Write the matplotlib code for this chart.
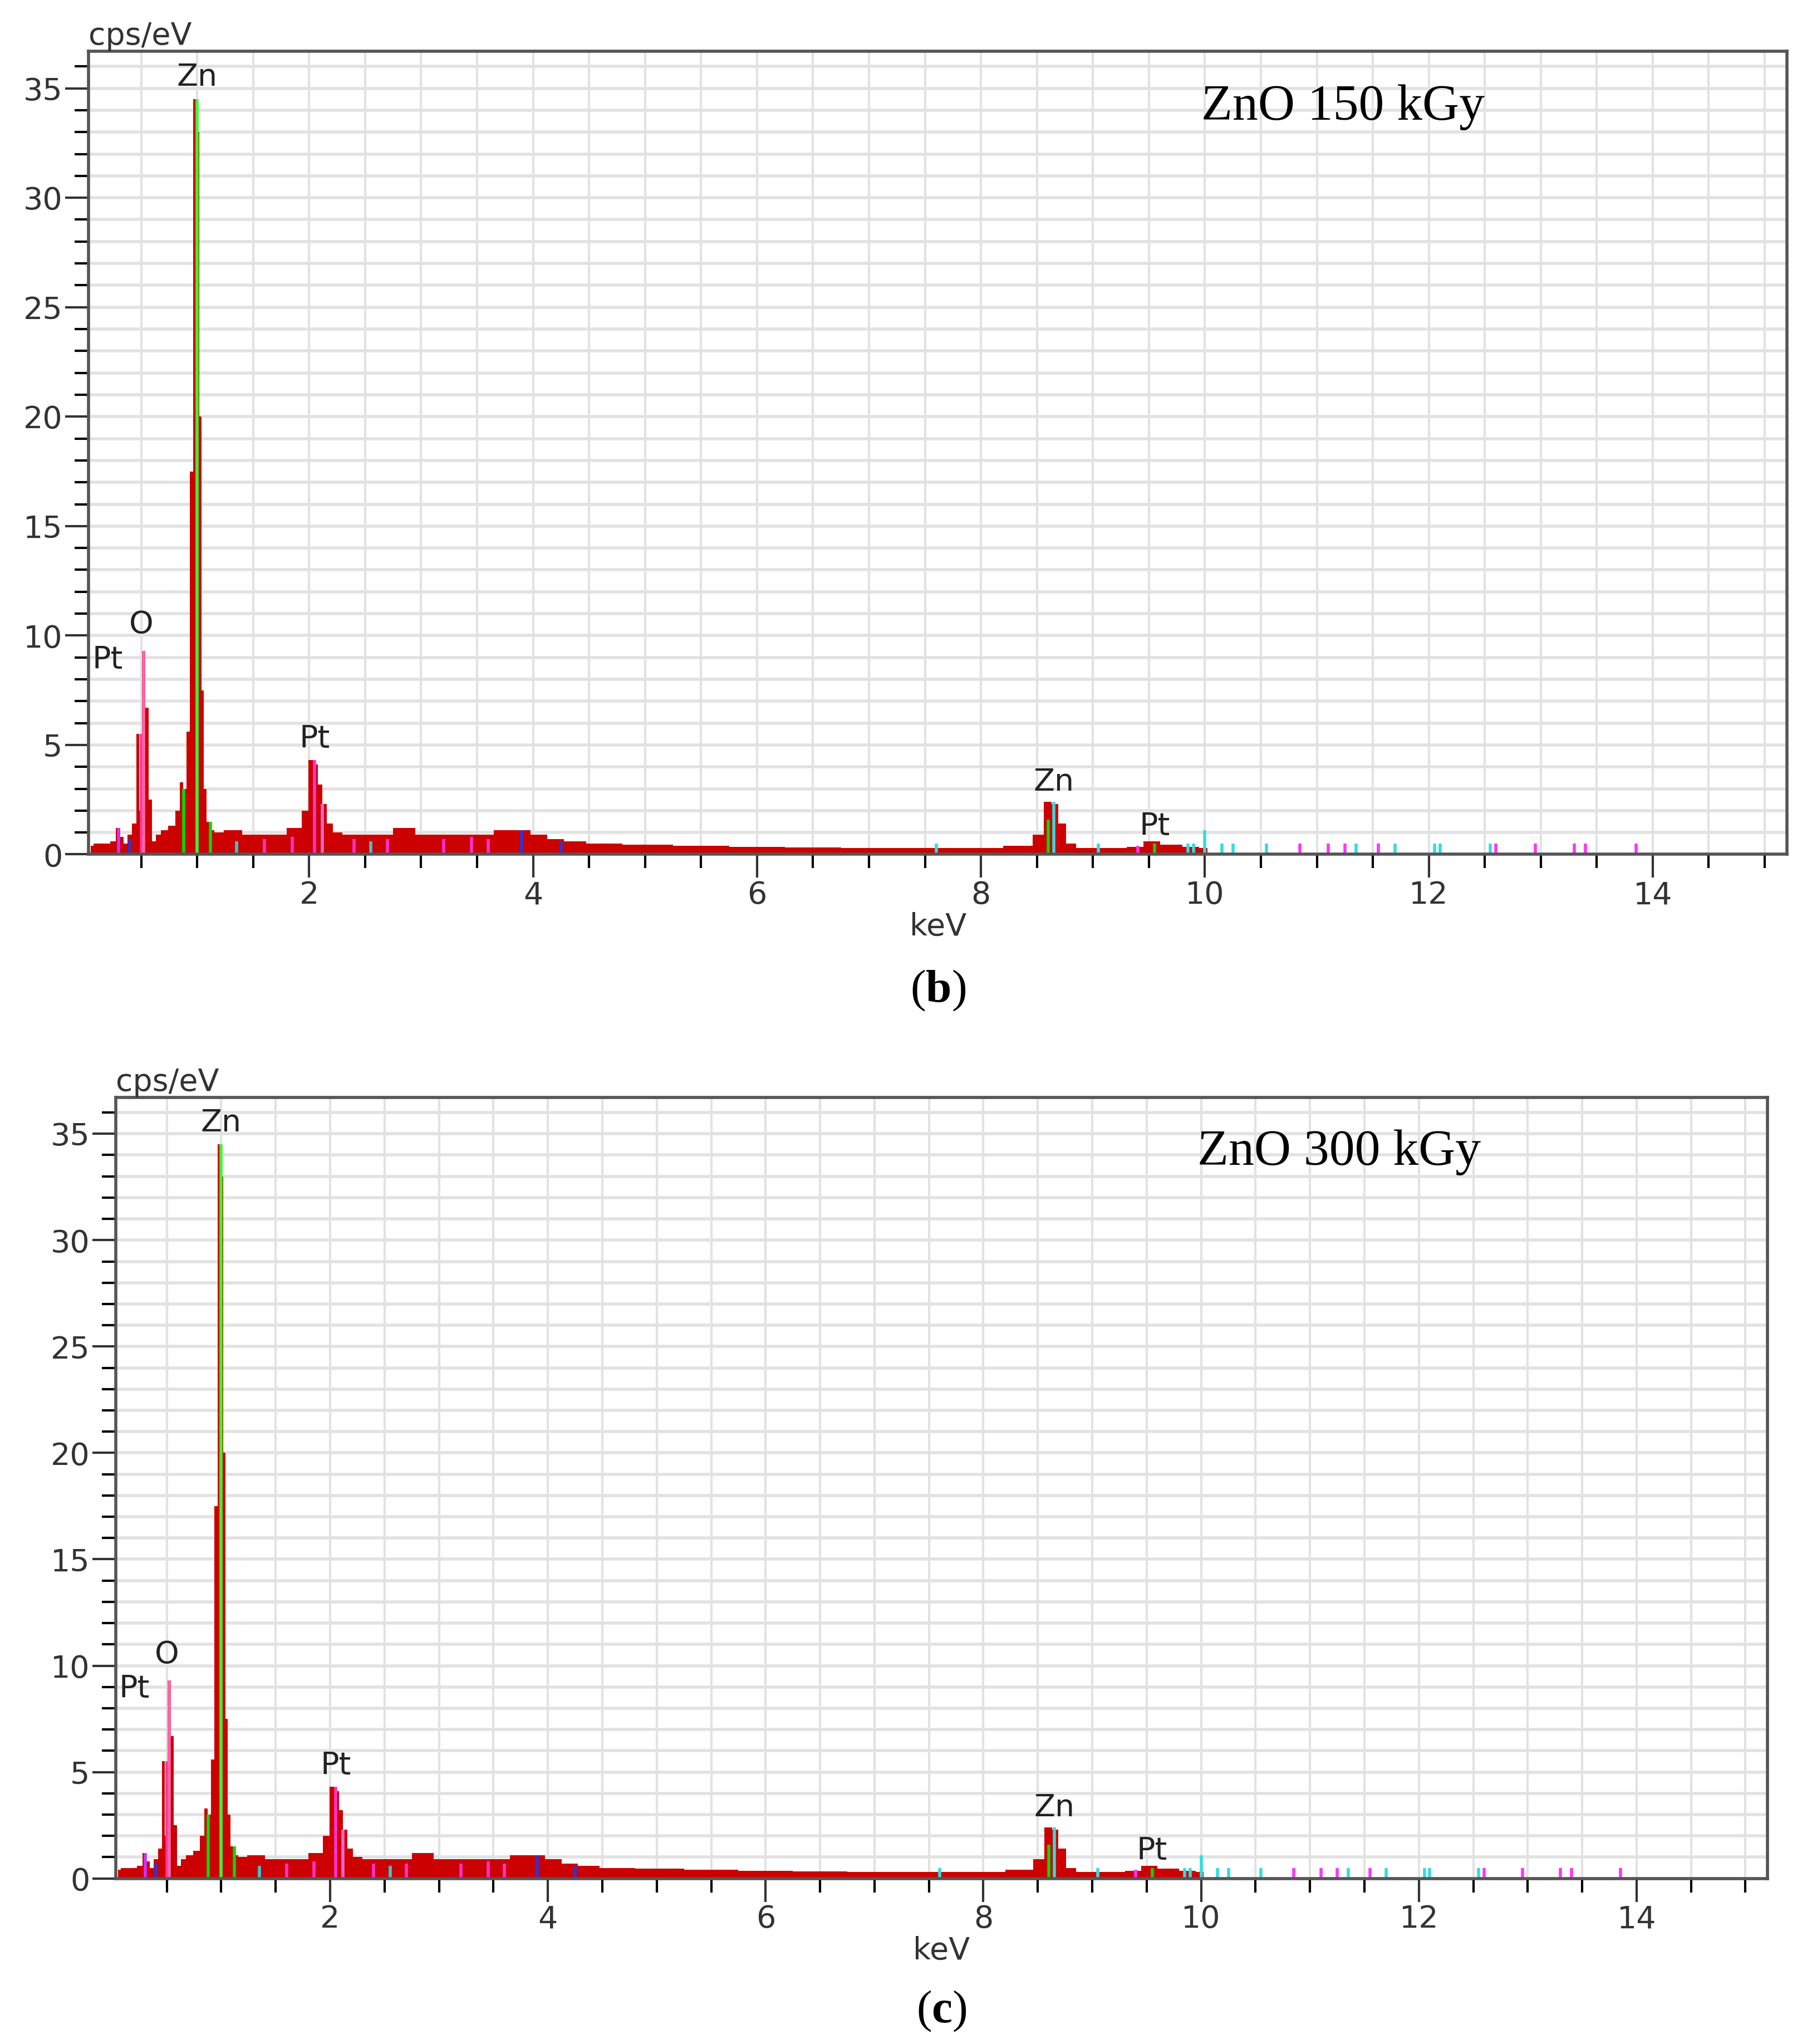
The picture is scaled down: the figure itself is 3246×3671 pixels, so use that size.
import numpy as np
import matplotlib.pyplot as plt
from matplotlib.ticker import MultipleLocator

plt.rcParams['mathtext.fontset'] = 'custom'
plt.rcParams['mathtext.rm'] = 'Liberation Serif'
plt.rcParams['mathtext.bf'] = 'Liberation Serif:bold'

# spectrum (keV, cps/eV)
energy = [0.05, 0.1, 0.2, 0.25, 0.3, 0.33, 0.36, 0.4, 0.44, 0.47, 0.49, 0.52, 0.55, 0.58, 0.61, 0.65,
          0.7, 0.78, 0.83, 0.86, 0.89, 0.92, 0.95, 0.98, 1.01, 1.03, 1.05, 1.07, 1.1, 1.13, 1.18,
          1.3, 1.5, 1.7, 1.9, 1.97, 2.02, 2.06, 2.1, 2.14, 2.18, 2.24, 2.35, 2.6, 2.9, 3.0, 3.4,
          3.9, 4.05, 4.2, 4.35, 4.6, 5.0, 5.5, 6.0, 6.5, 7.0, 7.5, 8.0, 8.4, 8.52, 8.6, 8.66, 8.72,
          8.8, 8.9, 9.2, 9.4, 9.5, 9.7, 9.9, 10.0, 10.05]
counts = [0.4, 0.5, 0.5, 0.6, 1.2, 0.8, 0.5, 0.9, 1.4, 5.5, 2.0, 9.3, 6.7, 2.5, 0.6, 0.9,
          1.1, 1.3, 2.0, 3.3, 3.0, 5.6, 17.5, 34.5, 33.0, 20.0, 7.5, 3.0, 1.5, 1.1, 1.0,
          1.1, 0.9, 0.9, 1.2, 2.0, 4.3, 4.1, 3.2, 2.3, 1.4, 1.0, 0.9, 0.9, 1.2, 0.9, 0.9,
          1.1, 0.9, 0.7, 0.6, 0.5, 0.45, 0.4, 0.35, 0.32, 0.3, 0.3, 0.3, 0.4, 0.9, 2.4, 2.3, 1.4,
          0.5, 0.3, 0.3, 0.35, 0.6, 0.45, 0.35, 0.3, 0.0]

# element marker lines: position, height, colour
mark_pos = [0.5, 0.52, 0.88, 1.0, 1.12, 2.05, 2.12, 2.7, 3.45, 3.9, 8.6, 8.65,
            0.3, 0.4, 1.35, 1.6, 1.85, 2.4, 2.55, 3.2, 3.6, 4.25, 7.6, 9.05, 9.4, 9.55,
            9.85, 9.9, 10.0, 10.15, 10.25, 10.55, 10.85, 11.1, 11.25, 11.35, 11.55, 11.7,
            12.05, 12.1, 12.55, 12.6, 12.95, 13.3, 13.4, 13.85]
mark_h = [5.5, 9.3, 3.0, 34.5, 1.5, 4.3, 2.3, 0.7, 0.8, 1.1, 1.6, 2.4,
          1.2, 0.7, 0.6, 0.7, 0.8, 0.7, 0.6, 0.7, 0.7, 0.6, 0.5, 0.5, 0.4, 0.5,
          0.5, 0.5, 1.1, 0.5, 0.5, 0.5, 0.5, 0.5, 0.5, 0.5, 0.5, 0.5,
          0.5, 0.5, 0.5, 0.5, 0.5, 0.5, 0.5, 0.5]
mark_col = ['#ff3399', '#ff66aa', '#00dd00', '#33ff33', '#00dd00', '#ff33cc', '#ff66cc', '#ff33cc',
            '#ff33cc', '#3333cc', '#00dd00', '#33dddd',
            '#cc33ff', '#3333cc', '#33cccc', '#ff33cc', '#ff33cc', '#ff33cc', '#33cccc', '#ff33cc',
            '#ff33cc', '#3333cc', '#33dddd', '#33dddd', '#ff33ff', '#00dd00',
            '#33dddd', '#33dddd', '#33dddd', '#33dddd', '#33dddd', '#33dddd', '#ff33ff', '#ff33ff',
            '#ff33ff', '#33dddd', '#ff33ff', '#33dddd', '#33dddd', '#33dddd', '#33dddd', '#ff33ff',
            '#ff33ff', '#ff33ff', '#ff33ff', '#ff33ff']

labels = ['Pt', 'O', 'Zn', 'Pt', 'Zn', 'Pt']
label_x = [0.2, 0.5, 1.0, 2.05, 8.65, 9.55]
label_y = [8.2, 9.8, 34.8, 4.6, 2.6, 0.6]

panels = [("ZnO 150 kGy", "b", [0.049, 0.582, 0.940, 0.393]),
          ("ZnO 300 kGy", "c", [0.064, 0.081, 0.914, 0.382])]

serif = 'Liberation Serif'

fig = plt.figure(figsize=(32.46, 36.71), dpi=100)
for title, cap, rect in panels:
    ax = fig.add_axes(rect)
    ax.fill_between(energy, counts, step='mid', color='#cc0000', lw=0)
    ax.vlines(mark_pos, 0, mark_h, colors=mark_col, lw=4)
    for t, x, y in zip(labels, label_x, label_y):
        ax.text(x, y, t, ha='center', va='bottom', fontsize=40, color='#222222')
    ax.set_xlim(0.03, 15.2)
    ax.set_ylim(0, 36.7)
    ax.xaxis.set_major_locator(MultipleLocator(2))
    ax.xaxis.set_minor_locator(MultipleLocator(0.5))
    ax.yaxis.set_major_locator(MultipleLocator(5))
    ax.grid(True, which='both', axis='x', color='#e2e2e2', lw=3)
    ax.yaxis.set_minor_locator(MultipleLocator(2.5))
    ax.grid(True, which='both', axis='y', color='#e2e2e2', lw=4)
    ax.yaxis.set_minor_locator(MultipleLocator(1))
    ax.set_axisbelow(True)
    ax.tick_params(which='major', direction='out', length=30, width=3, labelsize=40, colors='#333333')
    ax.tick_params(which='minor', direction='out', length=18, width=3)
    for s in ax.spines.values():
        s.set_linewidth(4)
        s.set_color('#555555')
    ax.set_xticks([2, 4, 6, 8, 10, 12, 14])
    ax.set_xlabel('keV', fontsize=40, color='#333333', labelpad=2)
    ax.text(0.0, 1.0, 'cps/eV', transform=ax.transAxes, fontsize=40, va='bottom', color='#333333')
    ax.text(0.655, 0.93, title, transform=ax.transAxes, fontsize=66, family=serif, va='center')
    ax.text(0.5, -0.17, r'($\mathbf{' + cap + '}$)', transform=ax.transAxes, fontsize=60,
            family=serif, ha='center', va='center')

fig.savefig('out.png', dpi=100)
